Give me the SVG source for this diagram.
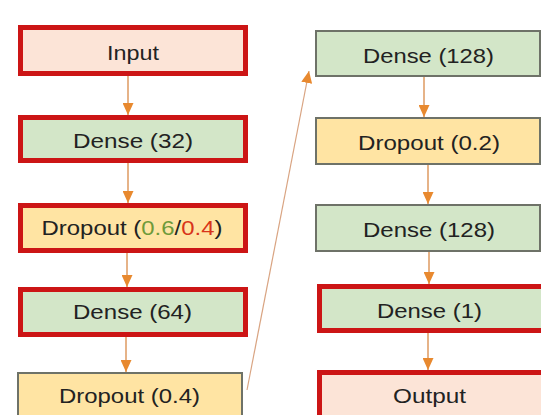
<svg xmlns="http://www.w3.org/2000/svg" width="541" height="415" viewBox="0 0 541 415">
<defs>
<style>
.red{stroke:#CC1515;stroke-width:5;}
.gray{stroke:#6E7268;stroke-width:2;}
.io{fill:#FCE4D7;}
.dense{fill:#D3E6C8;}
.drop{fill:#FFE4A3;}
text{font-family:"Liberation Sans",Arial,sans-serif;font-size:21px;fill:#222;text-anchor:middle;}
.conn line{stroke:#DE9A60;stroke-width:1.5;fill:none;}
.conn line.diag{stroke:#D9A482;stroke-width:1.2;}
</style>
<marker id="ah" markerUnits="userSpaceOnUse" markerWidth="12" markerHeight="11" refX="12" refY="5.5" viewBox="0 0 12 11" orient="auto">
<path d="M0,0 L12,5.5 L0,11 z" fill="#E8892F"/>
</marker>
</defs>
<rect width="541" height="415" fill="#ffffff"/>
<g class="conn">
<line x1="128" y1="76" x2="128" y2="115" marker-end="url(#ah)"/>
<line x1="128" y1="163" x2="128" y2="203" marker-end="url(#ah)"/>
<line x1="127" y1="253" x2="127" y2="287" marker-end="url(#ah)"/>
<line x1="126" y1="337" x2="126" y2="372" marker-end="url(#ah)"/>
<line class="diag" x1="247" y1="390" x2="309" y2="71" marker-end="url(#ah)"/>
<line x1="424" y1="77" x2="424" y2="117" marker-end="url(#ah)"/>
<line x1="428" y1="165" x2="428" y2="204" marker-end="url(#ah)"/>
<line x1="429" y1="252" x2="429" y2="284" marker-end="url(#ah)"/>
<line x1="428" y1="333" x2="428" y2="370" marker-end="url(#ah)"/>
</g>
<g id="input"><rect class="io red" x="20.5" y="27.5" width="225" height="46"/><text x="133" y="60" textLength="52" lengthAdjust="spacingAndGlyphs">Input</text></g>
<g id="dense32"><rect class="dense red" x="20.5" y="117.5" width="225" height="43"/><text x="133" y="148" textLength="120" lengthAdjust="spacingAndGlyphs">Dense (32)</text></g>
<g id="dropout1"><rect class="drop red" x="20.5" y="205.5" width="225" height="45"/><text x="132" y="235" textLength="181" lengthAdjust="spacingAndGlyphs">Dropout (<tspan fill="#6E9A3A">0.6</tspan>/<tspan fill="#D8341A">0.4</tspan>)</text></g>
<g id="dense64"><rect class="dense red" x="20.5" y="289.5" width="225" height="45"/><text x="132.5" y="319" textLength="119" lengthAdjust="spacingAndGlyphs">Dense (64)</text></g>
<g id="dropout2"><rect class="drop gray" x="18" y="373" width="224" height="60"/><text x="129.5" y="403" textLength="141" lengthAdjust="spacingAndGlyphs">Dropout (0.4)</text></g>
<g id="dense128a"><rect class="dense gray" x="316" y="31" width="224" height="45"/><text x="428.5" y="63" textLength="131" lengthAdjust="spacingAndGlyphs">Dense (128)</text></g>
<g id="dropout3"><rect class="drop gray" x="316" y="118" width="224" height="46"/><text x="429" y="150" textLength="142" lengthAdjust="spacingAndGlyphs">Dropout (0.2)</text></g>
<g id="dense128b"><rect class="dense gray" x="316" y="205" width="224" height="46"/><text x="429" y="237" textLength="132" lengthAdjust="spacingAndGlyphs">Dense (128)</text></g>
<g id="dense1"><rect class="dense red" x="319.5" y="286.5" width="226" height="44"/><text x="429.5" y="318" textLength="105" lengthAdjust="spacingAndGlyphs">Dense (1)</text></g>
<g id="output"><rect class="io red" x="319.5" y="372.5" width="226" height="60"/><text x="429.5" y="403" textLength="73" lengthAdjust="spacingAndGlyphs">Output</text></g>
</svg>
